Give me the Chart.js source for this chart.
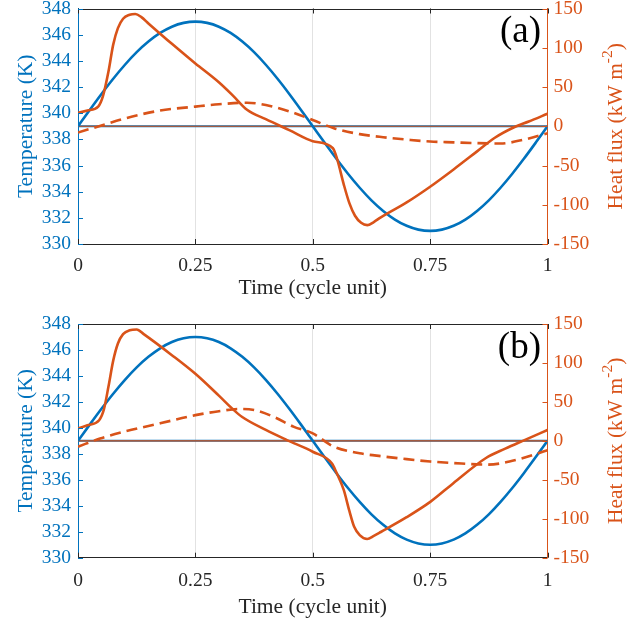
<!DOCTYPE html>
<html><head><meta charset="utf-8">
<script src="https://cdn.jsdelivr.net/npm/chart.js@4"></script>
<style>
html,body{margin:0;padding:0;background:#fff;}
#wrap{position:relative;width:642px;height:620px;background:#fff;}
canvas{position:absolute;left:0;width:642px;height:310px;}
</style></head><body>
<div id="wrap">
<canvas id="c1" width="642" height="310" style="top:0"></canvas>
<canvas id="c2" width="642" height="310" style="top:310px"></canvas>
</div>
<script>
// ---------- data ----------
const panelLabels = ['(a)', '(b)'];
const xTicks = [0, 0.25, 0.5, 0.75, 1];
const tempTicks = [330, 332, 334, 336, 338, 340, 342, 344, 346, 348];
const fluxTicks = [-150, -100, -50, 0, 50, 100, 150];

const timeT = [0,0.025,0.05,0.075,0.1,0.125,0.15,0.175,0.2,0.225,0.25,0.275,0.3,0.325,0.35,0.375,0.4,0.425,0.45,0.475,0.5,
  0.525,0.55,0.575,0.6,0.625,0.65,0.675,0.7,0.725,0.75,0.775,0.8,0.825,0.85,0.875,0.9,0.925,0.95,0.975,1];
const tempK = [339,340.25,341.47,342.63,343.70,344.66,345.47,346.13,346.61,346.90,347.00,346.90,346.61,346.13,345.47,344.66,343.70,342.63,341.47,340.25,339.00,
  337.75,336.53,335.37,334.30,333.34,332.53,331.87,331.39,331.10,331.00,331.10,331.39,331.87,332.53,333.34,334.30,335.37,336.53,337.75,339.00];

const meanT = [0, 1];
const meanTemp = [339, 339];
const zeroFlux = [0, 0];

// panel (a)
const fluxA_t = [0,0.02,0.043,0.053,0.065,0.075,0.085,0.096,0.11,0.122,0.135,0.15,0.2,0.25,0.3,0.33,0.36,0.4,0.45,0.5,0.543,0.552,0.566,0.578,0.59,0.603,0.616,0.63,0.645,0.7,0.75,0.8,0.85,0.887,0.93,0.96,1];
const fluxA_v = [17,20,25,38,70,104,125,137,142,143,139,131,105,80,56,39,21,9,-5,-19,-28,-42,-74,-98,-114,-123,-126,-122,-116,-97,-77,-55,-32,-15,-1,6,16];
const fluxA2_t = [0,0.05,0.1,0.175,0.25,0.3,0.36,0.4,0.45,0.5,0.545,0.6,0.65,0.7,0.75,0.8,0.85,0.9,0.95,1];
const fluxA2_v = [-8,1,10,20,25,28,30,27,19,8,-2.5,-10,-14,-17,-19.5,-20.5,-21.5,-22,-17,-9];

// panel (b)
const fluxB_t = [0,0.02,0.045,0.055,0.065,0.075,0.085,0.096,0.11,0.125,0.14,0.2,0.25,0.3,0.331,0.349,0.4,0.445,0.5,0.541,0.55,0.566,0.578,0.588,0.6,0.616,0.63,0.645,0.7,0.751,0.8,0.869,0.91,0.951,1];
const fluxB_v = [16,20,26.5,40,70,103,125,137,142,143,137,110,86,58,40,31,14,1,-14,-29,-40,-63,-90,-110,-121,-126,-122,-117,-98,-78,-54,-22,-10,1,14];
const fluxB2_t = [0,0.047,0.1,0.175,0.25,0.3,0.345,0.38,0.42,0.46,0.5,0.545,0.6,0.65,0.7,0.75,0.8,0.873,0.937,1];
const fluxB2_v = [-7.5,3,12,22.5,33,38,41,39,30,18,9.5,-7.5,-16,-20,-23.5,-26.5,-28.5,-30.5,-24,-12];

// ---------- style ----------
const BLUE = '#0072BD', ORANGE = '#D95319', DARK = '#262626';
const FONT = '"Liberation Serif", "Times New Roman", serif';
const pts = (xs, ys) => xs.map((x, i) => ({x, y: ys[i]}));

const decor = {
  id: 'decor',
  afterDraw(chart, args, opts) {
    const {ctx, chartArea: a, scales} = chart;
    ctx.save();
    ctx.strokeStyle = DARK; ctx.lineWidth = 1;
    ctx.beginPath(); ctx.moveTo(a.left, Math.round(a.top) + 0.5); ctx.lineTo(a.right, Math.round(a.top) + 0.5); ctx.stroke();
    const TL = 5;
    xTicks.forEach(v => {
      const px = Math.round(scales.x.getPixelForValue(v)) + 0.5;
      ctx.beginPath();
      ctx.moveTo(px, a.bottom); ctx.lineTo(px, a.bottom - TL);
      ctx.moveTo(px, a.top); ctx.lineTo(px, a.top + TL);
      ctx.stroke();
    });
    ctx.strokeStyle = BLUE;
    tempTicks.forEach(v => {
      const py = Math.round(scales.y.getPixelForValue(v)) + 0.5;
      ctx.beginPath(); ctx.moveTo(a.left, py); ctx.lineTo(a.left + TL, py); ctx.stroke();
    });
    ctx.strokeStyle = ORANGE;
    fluxTicks.forEach(v => {
      const py = Math.round(scales.y1.getPixelForValue(v)) + 0.5;
      ctx.beginPath(); ctx.moveTo(a.right, py); ctx.lineTo(a.right - TL, py); ctx.stroke();
    });
    ctx.fillStyle = '#000';
    ctx.font = '37px ' + FONT;
    ctx.textAlign = 'right'; ctx.textBaseline = 'alphabetic';
    ctx.fillText(opts.label, 541, a.top + 33.5);
    ctx.translate(614.7, (a.top + a.bottom) / 2);
    ctx.rotate(-Math.PI / 2);
    ctx.fillStyle = ORANGE;
    ctx.textAlign = 'left';
    const mainF = '21.5px ' + FONT, supF = '15.5px ' + FONT;
    const s1 = 'Heat flux (kW m', s2 = '-2', s3 = ')';
    ctx.font = mainF; const w1 = ctx.measureText(s1).width, w3 = ctx.measureText(s3).width;
    ctx.font = supF; const w2 = ctx.measureText(s2).width;
    let x0 = -(w1 + w2 + w3) / 2;
    ctx.font = mainF; ctx.fillText(s1, x0, 7.5);
    ctx.font = supF; ctx.fillText(s2, x0 + w1, -2.5);
    ctx.font = mainF; ctx.fillText(s3, x0 + w1 + w2, 7.5);
    ctx.restore();
  }
};

function makeChart(id, label, fl_t, fl_v, fl2_t, fl2_v, topPad, xAxisH, tickPad, xTitlePad) {
  return new Chart(document.getElementById(id), {
    type: 'line',
    data: {
      datasets: [
        {data: pts(meanT, meanTemp), yAxisID: 'y', borderColor: BLUE, borderWidth: 2, pointRadius: 0, order: 5},
        {data: pts(meanT, zeroFlux), yAxisID: 'y1', borderColor: ORANGE, borderWidth: 1.2, pointRadius: 0, order: 4},
        {data: pts(timeT, tempK), yAxisID: 'y', borderColor: BLUE, borderWidth: 2.6, pointRadius: 0, cubicInterpolationMode: 'monotone', order: 3},
        {data: pts(fl2_t, fl2_v), yAxisID: 'y1', borderColor: ORANGE, borderWidth: 2.6, borderDash: [11, 6], pointRadius: 0, cubicInterpolationMode: 'monotone', order: 2},
        {data: pts(fl_t, fl_v), yAxisID: 'y1', borderColor: ORANGE, borderWidth: 2.6, pointRadius: 0, cubicInterpolationMode: 'monotone', order: 1}
      ]
    },
    options: {
      responsive: false, animation: false, devicePixelRatio: 1,
      layout: {padding: {top: topPad, left: 0, right: 0, bottom: 0}},
      plugins: {legend: {display: false}, tooltip: {enabled: false}, decor: {label}},
      scales: {
        x: {
          type: 'linear', position: 'bottom', min: 0, max: 1,
          afterBuildTicks: s => { s.ticks = xTicks.map(v => ({value: v})); },
          afterFit: s => { s.height = xAxisH; s.paddingLeft = 0; s.paddingRight = 0; },
          ticks: {color: DARK, font: {family: FONT, size: 19.5}, padding: tickPad, maxRotation: 0, autoSkip: false, callback: v => String(v)},
          grid: {drawTicks: false, lineWidth: 1, color: c => (c.tick && (c.tick.value === 0 || c.tick.value === 1)) ? 'rgba(0,0,0,0)' : '#e2e2e2'},
          border: {color: DARK, width: 1},
          title: {display: true, text: 'Time (cycle unit)', color: DARK, font: {family: FONT, size: 21.5}, padding: {top: 0, bottom: xTitlePad}}
        },
        y: {
          position: 'left', min: 330, max: 348,
          afterBuildTicks: s => { s.ticks = tempTicks.map(v => ({value: v})); },
          afterFit: s => { s.width = 78; s.paddingTop = 0; s.paddingBottom = 0; },
          ticks: {color: BLUE, font: {family: FONT, size: 19.5}, padding: 7, autoSkip: false},
          grid: {display: false, drawTicks: false},
          border: {color: BLUE, width: 1},
          title: {display: true, text: 'Temperature (K)', color: BLUE, font: {family: FONT, size: 21.5}, padding: {top: 13, bottom: 0}}
        },
        y1: {
          position: 'right', min: -150, max: 150,
          afterBuildTicks: s => { s.ticks = fluxTicks.map(v => ({value: v})); },
          afterFit: s => { s.width = 94.5; s.paddingTop = 0; s.paddingBottom = 0; },
          ticks: {color: ORANGE, font: {family: FONT, size: 19.5}, padding: 6, autoSkip: false},
          grid: {display: false, drawTicks: false},
          border: {color: ORANGE, width: 1}
        }
      }
    },
    plugins: [decor]
  });
}

makeChart('c1', panelLabels[0], fluxA_t, fluxA_v, fluxA2_t, fluxA2_v, 8.5, 66, 10.5, 8.5);
makeChart('c2', panelLabels[1], fluxB_t, fluxB_v, fluxB2_t, fluxB2_v, 14, 62.3, 11, 0);
</script>
</body></html>
